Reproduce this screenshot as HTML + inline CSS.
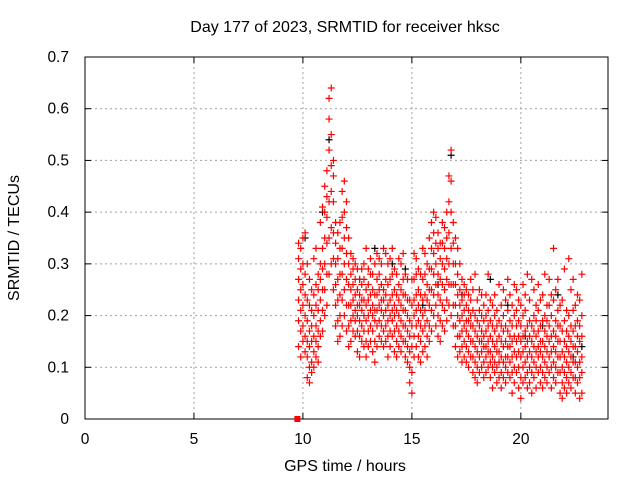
<!DOCTYPE html>
<html><head><meta charset="utf-8"><style>
html,body{margin:0;padding:0;background:#fff}
svg{display:block;font-family:"Liberation Sans",sans-serif}
</style></head><body>
<svg id="chart" width="640" height="480" viewBox="0 0 640 480">
<rect width="640" height="480" fill="#fff"/>
<g id="grid"></g><g id="axes"></g><g id="pts"></g>
<text x="345" y="32" text-anchor="middle" font-size="16">Day 177 of 2023, SRMTID for receiver hksc</text>
<text x="345" y="471" text-anchor="middle" font-size="16">GPS time / hours</text>
<text transform="translate(19,238) rotate(-90)" text-anchor="middle" font-size="16">SRMTID / TECUs</text>
</svg>
<script>
const xTicks=[0,5,10,15,20];
const yTicks=[0,0.1,0.2,0.3,0.4,0.5,0.6,0.7];
const hours=[9.8,9.9,10.0,10.1,10.2,10.3,10.4,10.5,10.6,10.7,10.8,10.9,11.0,11.1,11.2,11.3,11.4,11.5,11.6,11.7,11.8,11.9,12.0,12.1,12.2,12.3,12.4,12.5,12.6,12.7,12.8,12.9,13.0,13.1,13.2,13.3,13.4,13.5,13.6,13.7,13.8,13.9,14.0,14.1,14.2,14.3,14.4,14.5,14.6,14.7,14.8,14.9,15.0,15.1,15.2,15.3,15.4,15.5,15.6,15.7,15.8,15.9,16.0,16.1,16.2,16.3,16.4,16.5,16.6,16.7,16.8,16.9,17.0,17.1,17.2,17.3,17.4,17.5,17.6,17.7,17.8,17.9,18.0,18.1,18.2,18.3,18.4,18.5,18.6,18.7,18.8,18.9,19.0,19.1,19.2,19.3,19.4,19.5,19.6,19.7,19.8,19.9,20.0,20.1,20.2,20.3,20.4,20.5,20.6,20.7,20.8,20.9,21.0,21.1,21.2,21.3,21.4,21.5,21.6,21.7,21.8,21.9,22.0,22.1,22.2,22.3,22.4,22.5,22.6,22.7,22.8];
const srmtid=[
[.14,.19,.23,.27,.31,.34],[.12,.17,.21,.25,.29,.33],[.15,.18,.22,.26,.30,.35],[.13,.16,.20,.24,.28,.36],
[.08,.12,.15,.19,.23,.30],[.07,.10,.14,.17,.22,.27],[.09,.11,.15,.18,.21,.25],[.10,.13,.16,.20,.24,.31],
[.12,.15,.18,.22,.26,.33],[.11,.14,.17,.21,.25,.28],[.16,.19,.23,.27,.30,.38],[.17,.21,.25,.29,.33,.41],
[.20,.25,.30,.35,.40,.45],[.22,.28,.34,.39,.43,.48],[.28,.35,.42,.52,.58,.62],[.30,.37,.44,.49,.55,.64],
[.25,.31,.36,.42,.47,.50],[.18,.22,.26,.30,.34,.38],[.15,.19,.23,.27,.31,.36],[.16,.20,.24,.28,.33,.38],
[.18,.23,.28,.33,.39,.44],[.20,.25,.30,.35,.40,.46],[.17,.22,.27,.32,.37,.42],[.14,.18,.22,.26,.30,.35],
[.15,.19,.22,.25,.28,.32],[.17,.20,.23,.26,.29,.31],[.16,.19,.21,.24,.27,.30],[.13,.17,.20,.22,.25,.29],
[.12,.16,.19,.22,.24,.27],[.15,.18,.21,.23,.26,.29],[.14,.17,.20,.23,.27,.30],[.12,.15,.19,.22,.25,.33],
[.14,.17,.20,.23,.26,.29],[.15,.18,.21,.24,.28,.31],[.13,.17,.20,.22,.25,.28],[.11,.15,.19,.21,.24,.30],
[.14,.18,.21,.24,.27,.32],[.16,.19,.22,.25,.28,.31],[.15,.18,.21,.23,.26,.30],[.14,.17,.20,.23,.25,.33],
[.15,.18,.21,.24,.27,.32],[.12,.16,.19,.22,.26,.30],[.14,.17,.20,.23,.27,.31],[.16,.19,.21,.24,.28,.33],
[.13,.17,.20,.22,.25,.29],[.12,.15,.18,.21,.24,.28],[.14,.17,.20,.23,.26,.31],[.13,.16,.19,.22,.25,.30],
[.15,.18,.21,.24,.27,.32],[.12,.15,.18,.21,.24,.28],[.11,.14,.17,.20,.23,.27],[.07,.10,.13,.16,.19,.23],
[.05,.09,.14,.18,.22,.27],[.12,.16,.20,.23,.27,.32],[.14,.18,.21,.24,.28,.31],[.12,.16,.19,.22,.25,.29],
[.11,.15,.18,.21,.24,.28],[.13,.17,.20,.23,.27,.33],[.14,.18,.21,.24,.28,.32],[.12,.16,.19,.23,.26,.30],
[.15,.18,.22,.25,.29,.35],[.17,.21,.25,.29,.33,.38],[.20,.24,.28,.32,.36,.40],[.18,.22,.26,.30,.34,.39],
[.16,.20,.24,.28,.33,.36],[.15,.19,.23,.27,.31,.34],[.18,.22,.26,.30,.34,.38],[.17,.21,.25,.29,.33,.37],
[.19,.23,.27,.31,.35,.40],[.22,.26,.30,.36,.42,.47],[.20,.26,.33,.40,.46,.52],[.18,.22,.26,.30,.34,.38],
[.14,.18,.22,.26,.30,.35],[.12,.16,.20,.24,.28,.33],[.13,.16,.19,.22,.25,.30],[.11,.14,.17,.20,.23,.27],
[.12,.15,.18,.21,.24,.26],[.11,.14,.17,.19,.22,.25],[.10,.13,.16,.19,.21,.24],[.12,.15,.18,.20,.23,.27],
[.09,.12,.15,.18,.21,.25],[.08,.11,.14,.17,.20,.28],[.07,.10,.13,.16,.19,.23],[.09,.12,.15,.18,.21,.25],
[.10,.13,.15,.17,.20,.24],[.08,.11,.14,.16,.19,.22],[.09,.12,.14,.17,.20,.24],[.10,.13,.15,.18,.21,.28],
[.08,.11,.13,.16,.19,.23],[.06,.10,.12,.15,.18,.22],[.09,.11,.14,.17,.20,.24],[.07,.10,.13,.15,.18,.21],
[.08,.11,.13,.16,.19,.26],[.06,.09,.12,.15,.18,.22],[.08,.11,.14,.17,.20,.25],[.07,.10,.12,.15,.18,.23],
[.09,.12,.14,.17,.21,.27],[.08,.11,.14,.16,.19,.24],[.05,.09,.12,.15,.18,.22],[.07,.10,.13,.16,.20,.26],
[.09,.12,.15,.18,.21,.25],[.06,.10,.13,.16,.19,.23],[.04,.08,.12,.15,.18,.22],[.07,.10,.13,.16,.20,.26],
[.08,.11,.14,.17,.21,.24],[.06,.09,.12,.15,.18,.28],[.07,.10,.13,.16,.19,.23],[.05,.09,.12,.15,.18,.27],
[.08,.11,.14,.17,.20,.25],[.06,.10,.13,.16,.19,.22],[.09,.12,.14,.17,.21,.26],[.07,.10,.13,.15,.18,.23],
[.06,.09,.12,.15,.19,.24],[.08,.11,.14,.17,.20,.28],[.07,.10,.13,.16,.19,.22],[.09,.12,.15,.18,.22,.27],
[.06,.10,.13,.16,.20,.24],[.08,.11,.14,.17,.23,.33],[.07,.10,.13,.16,.19,.25],[.09,.12,.15,.18,.21,.27],
[.05,.09,.12,.15,.18,.22],[.04,.07,.10,.13,.17,.23],[.06,.09,.12,.15,.19,.29],[.05,.08,.11,.14,.17,.21],
[.07,.10,.13,.16,.20,.31],[.06,.09,.12,.15,.18,.25],[.08,.11,.14,.17,.21,.27],[.05,.08,.11,.14,.18,.22],
[.07,.10,.13,.16,.19,.24],[.04,.08,.11,.15,.18,.23],[.05,.09,.12,.16,.20,.28]];
const blackHours=[10.1,10.9,11.2,12.6,13.3,14.1,14.7,15.5,16.2,16.8,17.3,18.6,19.4,20.2,21.0,21.7,22.4,22.8];
const blackValues=[.35,.40,.54,.27,.33,.30,.29,.22,.26,.51,.24,.27,.22,.16,.18,.24,.12,.14];
const startHour=[9.7];const startValue=[0];

const X0=85,X1=608,Y0=419,Y1=57,XMAX=24,YMAX=0.7;
const sx=h=>X0+(X1-X0)*h/XMAX, sy=v=>Y0-(Y0-Y1)*v/YMAX;
const NS="http://www.w3.org/2000/svg";
const grid=document.getElementById('grid'),axes=document.getElementById('axes'),pts=document.getElementById('pts');
function mk(tag,attrs,parent){const e=document.createElementNS(NS,tag);for(const k in attrs)e.setAttribute(k,attrs[k]);parent.appendChild(e);return e;}
xTicks.forEach(t=>{const x=sx(t);
 if(t>0){const g=mk('line',{x1:x,x2:x,y1:Y1,y2:Y0,stroke:'#a0a0a0','stroke-dasharray':'2,3'},grid);
 
 }
 mk('line',{x1:x,x2:x,y1:Y0,y2:Y0-6,stroke:'#000'},axes);mk('line',{x1:x,x2:x,y1:Y1,y2:Y1+6,stroke:'#000'},axes);
 const l=mk('text',{x:x,y:Y0+25,'text-anchor':'middle','font-size':'15.5'},axes);l.textContent=t;
 
 });
yTicks.forEach(t=>{const y=sy(t);
 if(t>0&&t<YMAX){const g=mk('line',{x1:X0,x2:X1,y1:y,y2:y,stroke:'#a0a0a0','stroke-dasharray':'2,3'},grid);
 
 }
 mk('line',{x1:X0,x2:X0+6,y1:y,y2:y,stroke:'#000'},axes);mk('line',{x1:X1,x2:X1-6,y1:y,y2:y,stroke:'#000'},axes);
 const l=mk('text',{x:X0-16,y:y+5,'text-anchor':'end','font-size':'15.5'},axes);l.textContent=(t===0?'0':t.toFixed(1));
 
 });
const border=mk('rect',{x:X0,y:Y1,width:X1-X0,height:Y0-Y1,fill:'none',stroke:'#000'},axes);


function plus(h,v,col,name){const x=sx(h),y=sy(v);
 const p=mk('path',{d:`M${x-3.5} ${y}h7M${x} ${y-3.5}v7`,stroke:col,'stroke-width':'1.2',fill:'none'},pts);
 
 }
blackHours.forEach((h,i)=>plus(h,blackValues[i],'#000','black-point'));
hours.forEach((h,i)=>srmtid[i].forEach(v=>plus(h,v,'#f00','srmtid-point')));
startHour.forEach((h,i)=>{const r=mk('rect',{x:sx(h)-2,y:sy(startValue[i])-3,width:6,height:6,fill:'#f00'},pts);
 
 });
</script>
</body></html>
